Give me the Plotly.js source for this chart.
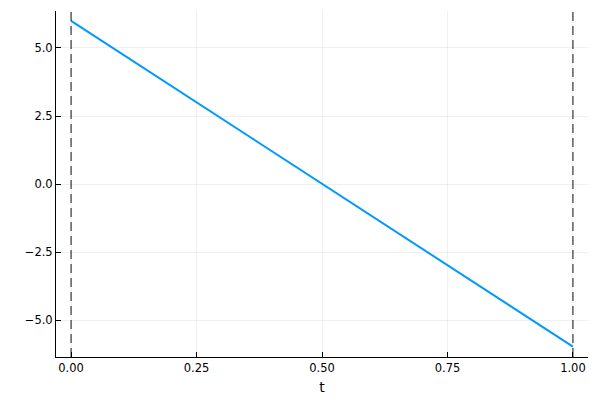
<!DOCTYPE html>
<html>
<head>
<meta charset="utf-8">
<script src="https://cdn.plot.ly/plotly-3.0.1.min.js"></script>
<style>html,body{margin:0;padding:0;background:#fff}#plot{width:600px;height:400px}</style>
</head>
<body>
<div id="plot"></div>
<script>
const tValues = [0, 1];
const yValues = [6.0, -5.98];
const vlineX = [0, 1];
const xTicks = [0, 0.25, 0.5, 0.75, 1.0];
const yTicks = [-5, -2.5, 0, 2.5, 5];

const traces = [{
  x: tValues, y: yValues, type: 'scatter', mode: 'lines',
  line: {color: '#009AFA', width: 2}, showlegend: false, hoverinfo: 'skip'
}];

const shapes = vlineX.map(v => ({
  type: 'line', xref: 'x', yref: 'paper', x0: v, x1: v, y0: 0, y1: 1,
  line: {color: 'rgba(0,0,0,0.85)', width: 1.1, dash: '9px,5px'}
}));

const axisCommon = {
  showline: true, linecolor: '#000', linewidth: 1,
  ticks: 'inside', ticklen: 5, tickcolor: '#000', tickwidth: 1,
  showgrid: true, gridcolor: 'rgba(0,0,0,0.06)', gridwidth: 1,
  zeroline: false, mirror: false,
  tickfont: {family: 'DejaVu Sans, sans-serif', size: 11.5, color: '#000'}
};

const layout = {
  width: 600, height: 400,
  margin: {l: 56, r: 12, t: 11, b: 43},
  paper_bgcolor: '#fff', plot_bgcolor: '#fff',
  showlegend: false,
  shapes: shapes,
  xaxis: Object.assign({}, axisCommon, {
    range: [-0.03, 1.03], tickvals: xTicks, tickformat: '.2f',
    title: {text: 't', font: {family: 'DejaVu Sans, sans-serif', size: 14, color: '#000'}, standoff: 8}
  }),
  yaxis: Object.assign({}, axisCommon, {
    range: [-6.36, 6.36], tickvals: yTicks, tickformat: '.1f'
  })
};

Plotly.newPlot('plot', traces, layout, {displayModeBar: false, staticPlot: true});
</script>
</body>
</html>
